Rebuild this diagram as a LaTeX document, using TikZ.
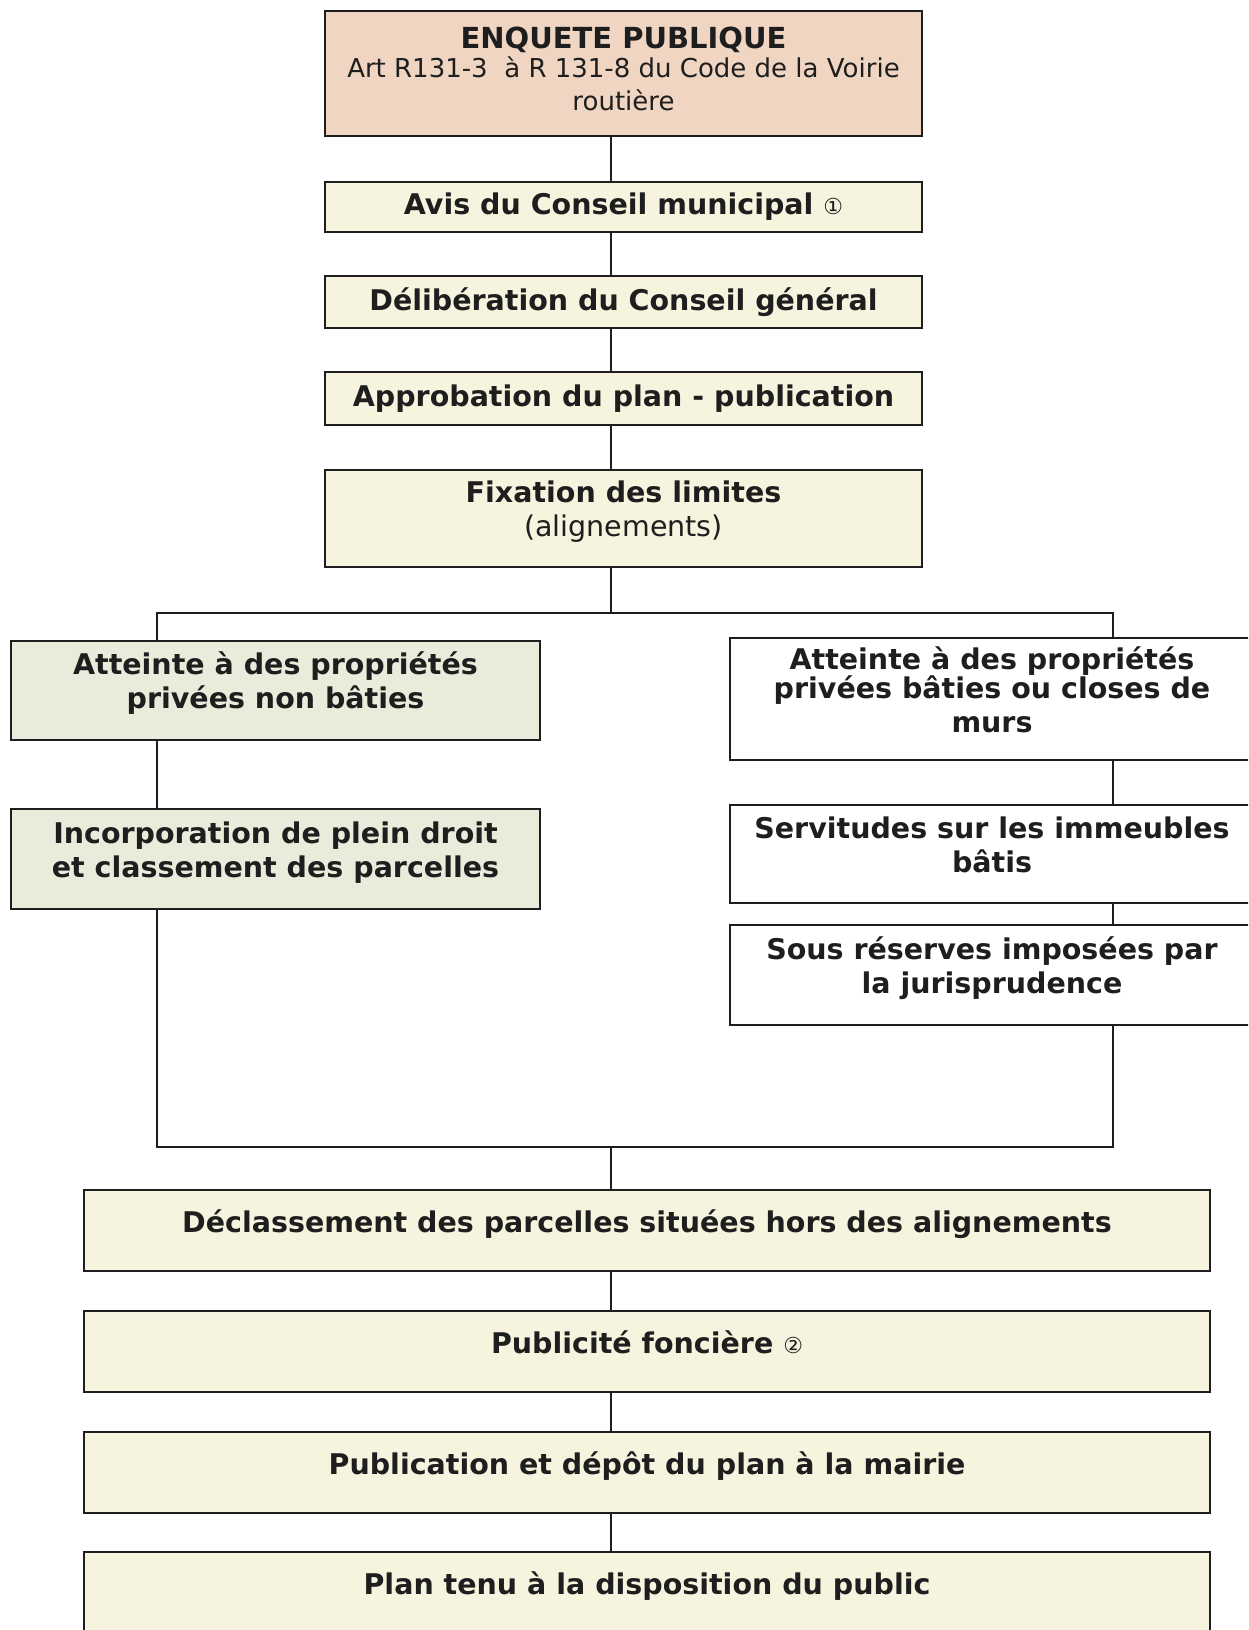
\documentclass[tikz,border=0pt]{standalone}
\usepackage{fontspec}
\setmainfont{DejaVu Sans}
\definecolor{peach}{RGB}{240,214,194}
\definecolor{cream}{RGB}{246,244,222}
\definecolor{sage}{RGB}{232,236,218}
\definecolor{ink}{RGB}{30,30,30}
\newcommand{\boxlines}[2][5.5pt]{\raisebox{#1}[\height][\depth]{\begin{tabular}{@{}c@{}}#2\end{tabular}}}
\begin{document}
\begin{tikzpicture}[x=1pt,y=-1pt,
  box/.style={draw=ink, line width=1.8pt, inner sep=0pt, align=center, text=ink,
    font=\bfseries\fontsize{28.5}{34}\selectfont},
  link/.style={draw=ink, line width=1.8pt}]
\useasboundingbox (0,0) rectangle (1248,1630);
\clip (0,0) rectangle (1248,1630);
\fill[white] (0,0) rectangle (1248,1630);

\coordinate (sp) at (611,0);
\coordinate (bl) at (157,613);
\coordinate (br) at (1113,613);
\coordinate (jn) at (611,1147);

\node[box, fill=peach, minimum width=597pt, minimum height=125pt] (top) at (623.5,73.5)
  {\boxlines[1pt]{{\fontsize{29}{29}\selectfont ENQUETE PUBLIQUE}\\[-5pt]
   {\mdseries\fontsize{26}{31}\selectfont Art R131-3~ à R 131-8 du Code de la Voirie}\\[-1pt]
   {\mdseries\fontsize{26}{31}\selectfont routière}}};
\node[box, fill=cream, minimum width=597pt, minimum height=50pt] (avis) at (623.5,207)
  {Avis du Conseil municipal {\mdseries\fontsize{22}{26}\selectfont ①}};
\node[box, fill=cream, minimum width=597pt, minimum height=52pt] (delib) at (623.5,302)
  {Délibération du Conseil général};
\node[box, fill=cream, minimum width=597pt, minimum height=53pt] (appro) at (623.5,398.5)
  {Approbation du plan - publication};
\node[box, fill=cream, minimum width=597pt, minimum height=97pt] (fix) at (623.5,518.5)
  {\boxlines{Fixation des limites\\{\mdseries (alignements)}}};

\node[box, fill=sage, minimum width=529pt, minimum height=99pt] (l1) at (275.5,690.5)
  {\boxlines{Atteinte à des propriétés\\privées non bâties}};
\node[box, fill=sage, minimum width=529pt, minimum height=100pt] (l2) at (275.5,859)
  {\boxlines{Incorporation de plein droit\\et classement des parcelles}};

\node[box, fill=white, minimum width=524pt, minimum height=122pt] (r1) at (992,699)
  {\boxlines[5pt]{Atteinte à des propriétés\\[-5pt]privées bâties ou closes de\\murs}};
\node[box, fill=white, minimum width=524pt, minimum height=98pt] (r2) at (992,854)
  {\boxlines[5pt]{Servitudes sur les immeubles\\bâtis}};
\node[box, fill=white, minimum width=524pt, minimum height=100pt] (r3) at (992,975)
  {\boxlines{Sous réserves imposées par\\la jurisprudence}};

\node[box, fill=cream, minimum width=1126pt, minimum height=81pt] (decl) at (647,1230.5)
  {\raisebox{18pt}{Déclassement des parcelles situées hors des alignements}};
\node[box, fill=cream, minimum width=1126pt, minimum height=81pt] (pub) at (647,1351.5)
  {\raisebox{18pt}{Publicité foncière {\mdseries\fontsize{22}{26}\selectfont ②}}};
\node[box, fill=cream, minimum width=1126pt, minimum height=81pt] (depot) at (647,1472.5)
  {\raisebox{18pt}{Publication et dépôt du plan à la mairie}};
\node[box, fill=cream, minimum width=1126pt, minimum height=81pt] (plan) at (647,1592.5)
  {\raisebox{18pt}{Plan tenu à la disposition du public}};

\draw[link] (top.south -| sp) -- (avis.north -| sp);
\draw[link] (avis.south -| sp) -- (delib.north -| sp);
\draw[link] (delib.south -| sp) -- (appro.north -| sp);
\draw[link] (appro.south -| sp) -- (fix.north -| sp);
\draw[link] (fix.south -| sp) -- (bl -| sp);
\draw[link] (l1.north -| bl) -- (bl) -- (br) -- (r1.north -| br);
\draw[link] (l1.south -| bl) -- (l2.north -| bl);
\draw[link] (r1.south -| br) -- (r2.north -| br);
\draw[link] (r2.south -| br) -- (r3.north -| br);
\draw[link] (l2.south -| bl) -- (bl |- jn) -- (br |- jn) -- (r3.south -| br);
\draw[link] (jn) -- (decl.north -| sp);
\draw[link] (decl.south -| sp) -- (pub.north -| sp);
\draw[link] (pub.south -| sp) -- (depot.north -| sp);
\draw[link] (depot.south -| sp) -- (plan.north -| sp);
\end{tikzpicture}
\end{document}
